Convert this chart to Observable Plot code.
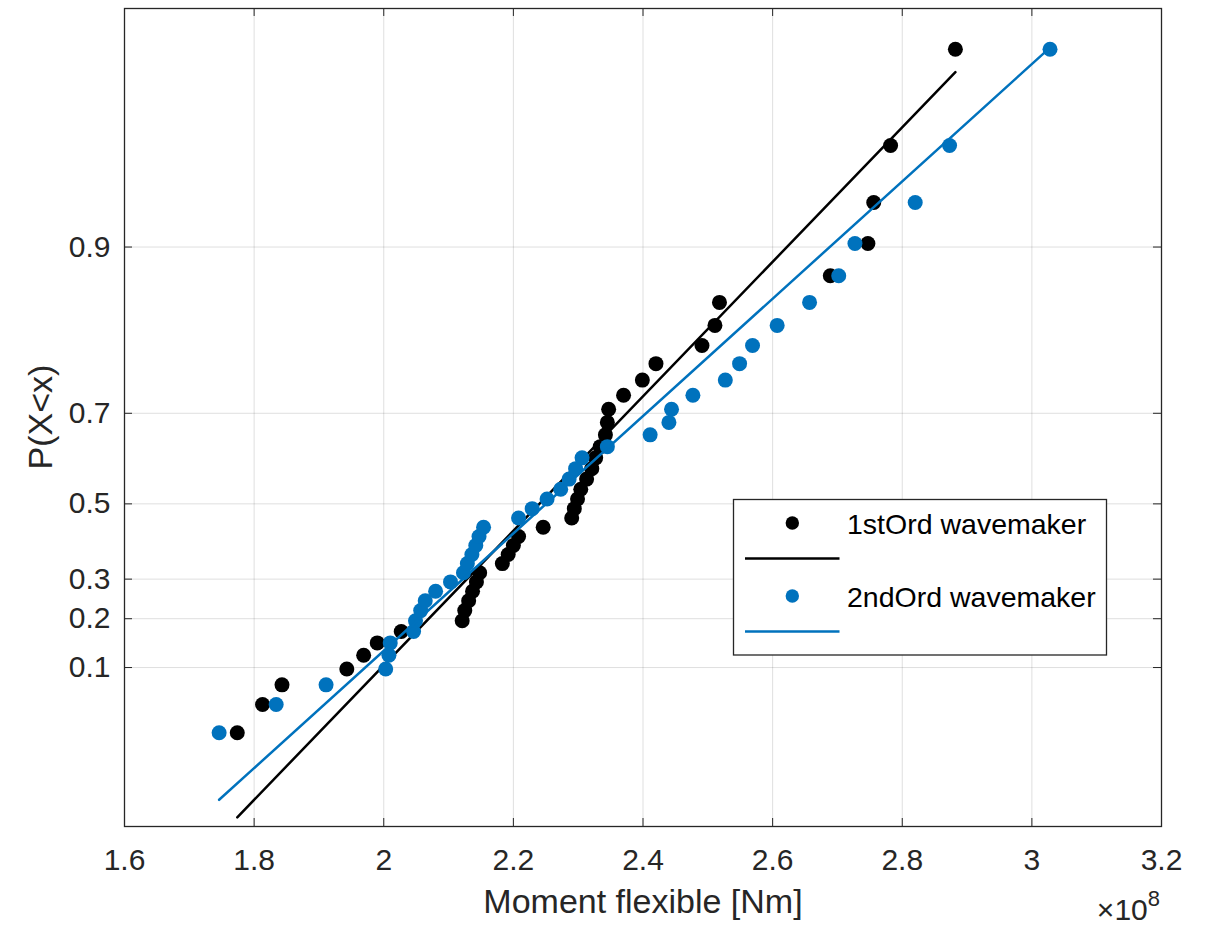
<!DOCTYPE html>
<html><head><meta charset="utf-8">
<script src="https://cdn.jsdelivr.net/npm/d3@7"></script>
<script src="https://cdn.jsdelivr.net/npm/@observablehq/plot@0.6"></script>
<style>
body{margin:0;background:#fff;}
#wrap{position:relative;width:1210px;height:927px;}
</style></head><body><div id="wrap"></div>
<script>
// Plotting positions (empirical non-exceedance probability) shared by both series
const probs = [0.0244,0.0488,0.0732,0.0976,0.1220,0.1463,0.1707,0.1951,0.2195,0.2439,
  0.2683,0.2927,0.3171,0.3415,0.3659,0.3902,0.4146,0.4390,0.4634,0.4878,
  0.5122,0.5366,0.5610,0.5854,0.6098,0.6341,0.6585,0.6829,0.7073,0.7317,
  0.7561,0.7805,0.8049,0.8293,0.8537,0.8780,0.9024,0.9268,0.9512,0.9756];
// Moment flexible [x 1e8 Nm], sorted
const moment1st = [1.774,1.813,1.843,1.943,1.969,1.990,2.027,2.121,2.125,2.131,
  2.137,2.143,2.148,2.183,2.192,2.200,2.208,2.246,2.290,2.294,
  2.299,2.304,2.313,2.321,2.327,2.334,2.342,2.345,2.347,2.370,
  2.399,2.420,2.491,2.511,2.518,2.689,2.747,2.756,2.782,2.882];
const moment2nd = [1.746,1.834,1.911,2.003,2.008,2.010,2.046,2.049,2.057,2.064,
  2.080,2.103,2.123,2.129,2.136,2.142,2.147,2.154,2.208,2.229,
  2.252,2.273,2.286,2.296,2.306,2.345,2.411,2.440,2.444,2.477,
  2.527,2.549,2.569,2.607,2.657,2.702,2.727,2.820,2.873,3.028];
// Fitted Gumbel lines (end points)
const fit1stX = [1.774, 2.882];
const fit1stP = [0.0010, 0.9712];
const fit2ndX = [1.746, 3.028];
const fit2ndP = [0.0023, 0.9759];
// Axes
const xTicks = [1.6,1.8,2.0,2.2,2.4,2.6,2.8,3.0,3.2];
const xTickLabels = ["1.6","1.8","2","2.2","2.4","2.6","2.8","3","3.2"];
const yTickProbs = [0.1,0.2,0.3,0.5,0.7,0.9];
const yTickLabels = ["0.1","0.2","0.3","0.5","0.7","0.9"];
const seriesNames = ["1stOrd wavemaker","2ndOrd wavemaker"];
const colors = ["#000000","#0072BD"];

const G = p => -Math.log(-Math.log(p));
const yTicks = yTickProbs.map(G);
const pts1 = moment1st.map((x,i)=>({x, y:G(probs[i])}));
const pts2 = moment2nd.map((x,i)=>({x, y:G(probs[i])}));
const line1 = fit1stX.map((x,i)=>({x, y:G(fit1stP[i])}));
const line2 = fit2ndX.map((x,i)=>({x, y:G(fit2ndP[i])}));
const yDom = [-2, 4];
const font = '"Liberation Sans", Arial, Helvetica, sans-serif';
const tickLenX = 8/648; const tickLenY = 8/136.5;

const chart = Plot.plot({
  width:1210, height:927,
  marginLeft:124, marginRight:49, marginTop:8, marginBottom:101,
  style:{fontFamily:font, color:"#262626", background:"#fff", overflow:"visible"},
  x:{domain:[1.6,3.2]},
  y:{domain:yDom},
  marks:[
    Plot.gridX(xTicks,{stroke:"#262626", strokeOpacity:0.15, strokeWidth:1}),
    Plot.gridY(yTicks,{stroke:"#262626", strokeOpacity:0.15, strokeWidth:1}),
    Plot.ruleX(xTicks,{y1:yDom[0], y2:yDom[0]+tickLenY, stroke:"#262626"}),
    Plot.ruleX(xTicks,{y1:yDom[1], y2:yDom[1]-tickLenY, stroke:"#262626"}),
    Plot.ruleY(yTicks,{x1:1.6, x2:1.6+tickLenX, stroke:"#262626"}),
    Plot.ruleY(yTicks,{x1:3.2, x2:3.2-tickLenX, stroke:"#262626"}),
    Plot.axisX(xTicks,{tickSize:0, tickPadding:22, fontSize:30, label:null,
      tickFormat:d=>xTickLabels[xTicks.findIndex(t=>Math.abs(t-d)<1e-9)]}),
    Plot.axisY(yTicks,{tickSize:0, tickPadding:14, fontSize:30, label:null,
      tickFormat:d=>yTickLabels[yTicks.findIndex(t=>Math.abs(t-d)<1e-9)]}),
    Plot.dot(pts1,{x:"x", y:"y", r:7.5, fill:colors[0], stroke:"none"}),
    Plot.line(line1,{x:"x", y:"y", stroke:colors[0], strokeWidth:2.5}),
    Plot.dot(pts2,{x:"x", y:"y", r:7.5, fill:colors[1], stroke:"none"}),
    Plot.line(line2,{x:"x", y:"y", stroke:colors[1], strokeWidth:2.5}),
    Plot.frame({stroke:"#262626", strokeWidth:1.3})
  ]
});
document.getElementById("wrap").appendChild(chart);

const svg = d3.select(chart);
// axis labels
svg.append("text").attr("x",643).attr("y",913).attr("text-anchor","middle")
  .attr("font-family",font).attr("font-size",34).attr("fill","#262626")
  .text("Moment flexible [Nm]");
svg.append("text").attr("transform","translate(52,417) rotate(-90)").attr("text-anchor","middle")
  .attr("font-family",font).attr("font-size",34).attr("fill","#262626")
  .text("P(X<x)");
const mult = svg.append("text").attr("x",1160).attr("y",920).attr("text-anchor","end")
  .attr("font-family",font).attr("font-size",30).attr("fill","#262626");
mult.append("tspan").text("×10");
mult.append("tspan").attr("dy",-14).attr("font-size",22).text("8");

// legend
const lg = svg.append("g");
lg.append("rect").attr("x",733.5).attr("y",499.5).attr("width",373).attr("height",155.5)
  .attr("fill","#fff").attr("stroke","#262626").attr("stroke-width",1.3);
const rowsY = [523, 596];
seriesNames.forEach((name,i)=>{
  const cy = rowsY[i];
  lg.append("circle").attr("cx",792.3).attr("cy",cy).attr("r",6.7).attr("fill",colors[i]);
  lg.append("line").attr("x1",745).attr("x2",839.5).attr("y1",cy+35.5).attr("y2",cy+35.5)
    .attr("stroke",colors[i]).attr("stroke-width",2.5);
  lg.append("text").attr("x",847).attr("y",cy+11).attr("text-anchor","start")
    .attr("font-family",font).attr("font-size",28.5).attr("fill","#000").text(name);
});
</script></body></html>
